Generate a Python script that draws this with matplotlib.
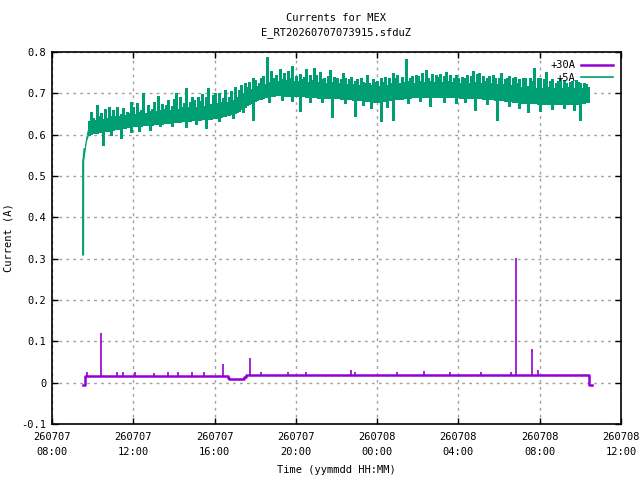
import numpy as np
import matplotlib
matplotlib.use('Agg')
import matplotlib.pyplot as plt

plt.rcParams['font.family'] = ['DejaVu Sans Mono']
plt.rcParams['font.size'] = 7.5

# time in hours since 260707 00:00
xticks = [8, 12, 16, 20, 24, 28, 32, 36]
xticklabels = ['260707\n08:00', '260707\n12:00', '260707\n16:00', '260707\n20:00',
               '260708\n00:00', '260708\n04:00', '260708\n08:00', '260708\n12:00']
yticks = [-0.1, 0, 0.1, 0.2, 0.3, 0.4, 0.5, 0.6, 0.7, 0.8]
yticklabels = ['-0.1', '0', '0.1', '0.2', '0.3', '0.4', '0.5', '0.6', '0.7', '0.8']

# +5A : start of trace
g5_start_t = [9.53, 9.535, 9.56, 9.60]
g5_start_v = [0.31, 0.535, 0.545, 0.565]

# +5A : dense band (lower / upper edge)
band_t = [9.60, 9.70, 9.80, 10.0, 10.5, 11.0, 12.0, 13.0, 14.0, 15.0, 16.0, 16.5,
          17.0, 17.5, 18.0, 18.5, 19.0, 20.0, 21.0, 22.0, 23.0, 24.0, 25.0, 26.0,
          27.0, 28.0, 29.0, 30.0, 31.0, 32.0, 33.0, 34.0, 34.45]
band_lo = [0.555, 0.585, 0.600, 0.603, 0.607, 0.612, 0.620, 0.625, 0.630, 0.635, 0.640, 0.645,
           0.652, 0.668, 0.682, 0.691, 0.695, 0.694, 0.690, 0.688, 0.684, 0.679, 0.686, 0.692,
           0.692, 0.690, 0.688, 0.684, 0.678, 0.675, 0.674, 0.675, 0.680]
band_hi = [0.575, 0.605, 0.622, 0.630, 0.635, 0.640, 0.645, 0.650, 0.655, 0.660, 0.665, 0.671,
           0.680, 0.695, 0.707, 0.716, 0.721, 0.720, 0.717, 0.714, 0.710, 0.706, 0.714, 0.719,
           0.719, 0.716, 0.714, 0.711, 0.706, 0.702, 0.702, 0.702, 0.688]

# +5A : upper tips, one every 6 minutes from 09:48 to 10:24 next day (A*1000)
tip_t0, tip_dt = 9.8, 0.1
tip_milli = [632, 655,
             640, 636, 672, 645, 652, 638, 662, 641, 668, 644,
             660, 646, 666, 644, 650, 664, 648, 655, 652, 680,
             668, 650, 676, 654, 660, 700, 652, 672, 658, 662,
             678, 658, 694, 660, 675, 663, 672, 684, 660, 670,
             686, 700, 662, 690, 668, 676, 712, 666, 680, 690,
             684, 668, 690, 682, 698, 670, 692, 712, 674, 696,
             700, 676, 702, 680, 688, 708, 678, 692, 706, 684,
             716, 690, 708, 720, 700, 724, 716, 728, 710, 738,
             732, 718, 725, 736, 742, 722, 788, 728, 755, 736,
             745, 730, 760, 734, 750, 732, 753, 736, 766, 730,
             742, 730, 746, 735, 740, 758, 728, 744, 732, 762,
             744, 728, 752, 734, 736, 726, 742, 756, 728, 740,
             736, 724, 734, 748, 737, 722, 735, 740, 722, 730,
             734, 720, 736, 728, 724, 744, 726, 720, 734, 728,
             730, 718, 736, 728, 740, 720, 736, 724, 748, 738,
             745, 726, 740, 728, 783, 730, 736, 742, 724, 744,
             742, 730, 748, 728, 756, 738, 730, 746, 728, 744,
             740, 746, 728, 742, 752, 730, 744, 728, 738, 744,
             738, 726, 740, 736, 744, 726, 742, 754, 728, 746,
             750, 726, 742, 730, 736, 742, 724, 744, 736, 722,
             736, 748, 722, 734, 738, 742, 720, 738, 740, 724,
             734, 716, 738, 736, 718, 738, 730, 762, 714, 736,
             736, 712, 734, 752, 716, 730, 734, 712, 725, 730,
             734, 712, 730, 726, 716, 728, 730, 712, 732, 728,
             726, 712, 724, 722, 716]
# +5A : dips below the band
dip_t = [10.5, 10.9, 11.4, 11.9, 12.3, 12.8, 13.3, 13.9, 14.6, 15.1, 15.6, 16.2, 16.9, 17.4,
         17.9, 18.7, 19.3, 19.8, 20.2, 20.7, 21.3, 21.8, 22.4, 22.9, 23.3, 23.7, 24.2, 24.5,
         24.8, 25.5, 26.1, 26.6, 27.3, 27.9, 28.3, 28.8, 29.4, 29.9, 30.5, 31.0, 31.4, 32.0,
         32.6, 33.2, 33.7, 34.0]
dip_v = [0.575, 0.598, 0.591, 0.606, 0.608, 0.612, 0.620, 0.622, 0.618, 0.626, 0.617, 0.632, 0.640, 0.655,
         0.636, 0.680, 0.684, 0.682, 0.657, 0.680, 0.678, 0.643, 0.676, 0.645, 0.672, 0.664, 0.632, 0.668,
         0.636, 0.676, 0.682, 0.670, 0.680, 0.676, 0.678, 0.660, 0.674, 0.636, 0.670, 0.664, 0.655, 0.657,
         0.662, 0.664, 0.660, 0.636]

# +30A : baseline
p30_t = [9.53, 9.60, 9.61, 16.55, 16.65, 16.70, 17.40, 17.45, 17.55, 34.40, 34.42, 34.55]
p30_v = [-0.005, -0.005, 0.016, 0.016, 0.012, 0.008, 0.008, 0.014, 0.019, 0.019, -0.005, -0.005]
# +30A : spikes
p30_spike_t = [9.7, 10.43, 11.2, 11.5, 12.1, 13.0, 13.7, 14.2, 14.9, 15.5, 16.42, 17.74, 18.3,
               19.6, 20.5, 22.7, 22.9, 25.0, 26.3, 27.6, 29.1, 30.6, 30.82, 31.62, 31.9]
p30_spike_v = [0.025, 0.120, 0.026, 0.027, 0.025, 0.024, 0.026, 0.026, 0.027, 0.025, 0.045, 0.060, 0.026,
               0.027, 0.025, 0.030, 0.027, 0.026, 0.028, 0.026, 0.027, 0.026, 0.302, 0.082, 0.030]

purple = '#9400d3'
green = '#009e73'

fig = plt.figure(figsize=(6.4, 4.8), dpi=100)
ax = fig.add_axes([52/640, 1-424/480, 569/640, 372/480])

# +30A
ax.plot(p30_t, p30_v, color=purple, lw=1.8, label='+30A', drawstyle='steps-post')
p30_base = np.interp(p30_spike_t, p30_t, p30_v)
ax.vlines(p30_spike_t, p30_base, p30_spike_v, color=purple, lw=1.2)

# +5A
tip_t = tip_t0 + tip_dt * np.arange(len(tip_milli))
tip_v = np.array(tip_milli) / 1000.0
ax.plot(g5_start_t, g5_start_v, color=green, lw=1.5)
ax.fill_between(band_t, band_lo, band_hi, color=green, lw=0)
tip_base = np.interp(tip_t, band_t, band_lo)
ax.vlines(tip_t, tip_base, tip_v, color=green, lw=1.0, antialiased=False)
dp_base = np.interp(dip_t, band_t, band_hi)
ax.vlines(dip_t, dip_v, dp_base, color=green, lw=1.0, antialiased=False)
ax.plot([], [], color=green, lw=1.2, label='+5A')

ax.set_xlim(8, 36)
ax.set_ylim(-0.1, 0.8)
ax.set_xticks(xticks)
ax.set_xticklabels(xticklabels, linespacing=1.6)
ax.set_yticks(yticks)
ax.set_yticklabels(yticklabels)
ax.tick_params(direction='in', length=4, width=1, top=True, right=True, pad=6, colors='black')
ax.tick_params(axis='y', pad=4)
ax.grid(True, color='#a0a0a0', linestyle=(0, (2, 3)), lw=1)
for s in ax.spines.values():
    s.set_linewidth(1.2)

ax.set_title('Currents for MEX\nE_RT20260707073915.sfduZ', fontsize=7.5, pad=12, linespacing=1.6)
ax.set_xlabel('Time (yymmdd HH:MM)', labelpad=6)
ax.set_ylabel('Current (A)', labelpad=6)

leg = ax.legend(loc='upper right', frameon=False, markerfirst=False, handlelength=3.0,
                handletextpad=0.6, borderaxespad=0.4, labelspacing=0.25)
for t in leg.get_texts():
    t.set_ha('right')

fig.savefig('out.png', dpi=100)
